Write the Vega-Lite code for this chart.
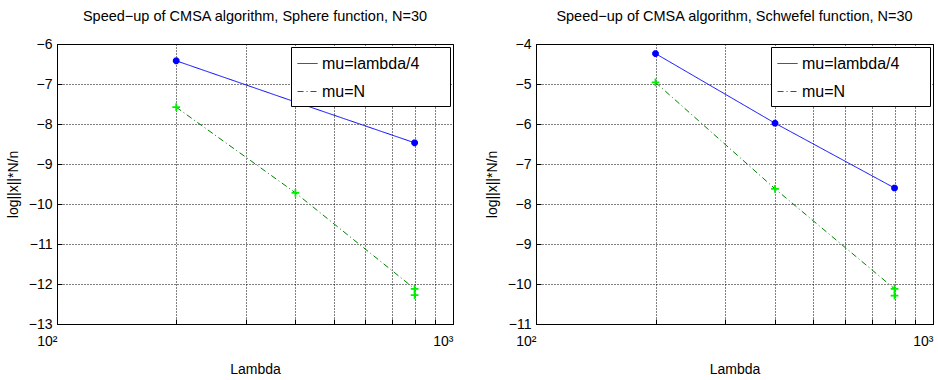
{
  "$schema": "https://vega.github.io/schema/vega-lite/v6.json",
  "background": "white",
  "padding": {"left": 5, "top": 8, "right": 2, "bottom": 0},
  "spacing": 30,
  "config": {
    "font": "Liberation Sans",
    "view": {"stroke": "black", "strokeWidth": 1},
    "axis": {
      "domainColor": "black", "tickColor": "black", "labelColor": "black", "titleColor": "black",
      "gridColor": "black", "gridDash": [1, 2], "gridOpacity": 1, "gridWidth": 1,
      "labelFontSize": 14, "titleFontSize": 14, "titleFontWeight": "normal",
      "tickSize": -5, "labelPadding": 10
    },
    "title": {"fontSize": 14.5, "fontWeight": "normal", "color": "black", "offset": 13},
    "legend": {
      "orient": "top-right", "offset": 3, "strokeColor": "black", "fillColor": "white",
      "padding": 6, "labelFontSize": 16, "symbolType": "stroke", "symbolSize": 400,
      "symbolStrokeWidth": 1, "rowPadding": 9, "labelOffset": 4, "title": null,
      "labelColor": "black", "labelLimit": 400
    }
  },
  "datasets": {
    "sphere": [
      {"series": "mu=lambda/4", "kind": "main", "lambda": 200, "value": -6.42},
      {"series": "mu=lambda/4", "kind": "main", "lambda": 400, "value": -7.45},
      {"series": "mu=lambda/4", "kind": "main", "lambda": 800, "value": -8.47},
      {"series": "mu=N", "kind": "main", "lambda": 200, "value": -7.58},
      {"series": "mu=N", "kind": "main", "lambda": 400, "value": -9.72},
      {"series": "mu=N", "kind": "main", "lambda": 800, "value": -12.12},
      {"series": "mu=N", "kind": "extra", "lambda": 800, "value": -12.28}
    ],
    "schwefel": [
      {"series": "mu=lambda/4", "kind": "main", "lambda": 200, "value": -4.24},
      {"series": "mu=lambda/4", "kind": "main", "lambda": 400, "value": -5.98},
      {"series": "mu=lambda/4", "kind": "main", "lambda": 800, "value": -7.6},
      {"series": "mu=N", "kind": "main", "lambda": 200, "value": -4.96},
      {"series": "mu=N", "kind": "main", "lambda": 400, "value": -7.62},
      {"series": "mu=N", "kind": "main", "lambda": 800, "value": -10.12},
      {"series": "mu=N", "kind": "extra", "lambda": 800, "value": -10.29}
    ]
  },
  "hconcat": [
    {
      "width": 396, "height": 280,
      "title": "Speed−up of CMSA algorithm, Sphere function, N=30",
      "data": {"name": "sphere"},
      "encoding": {
        "x": {"field": "lambda", "type": "quantitative",
          "scale": {"type": "log", "domain": [100, 1000], "nice": false},
          "axis": {"title": "Lambda", "values": [100, 200, 300, 400, 500, 600, 700, 800, 900, 1000],
            "labelExpr": "datum.value == 100 ? '10²' : (datum.value == 1000 ? '10³' : '')",
            "labelAlign": "right", "labelDx": 4, "labelPadding": 15, "titlePadding": 14}},
        "y": {"field": "value", "type": "quantitative",
          "scale": {"domain": [-13, -6], "nice": false},
          "axis": {"title": "log||x||*N/n", "values": [-13, -12, -11, -10, -9, -8, -7, -6], "format": "d", "titlePadding": 8}}
      },
      "layer": [
        {"transform": [{"filter": "datum.kind == 'main'"}],
         "mark": {"type": "line", "strokeWidth": 1},
         "encoding": {
           "color": {"field": "series", "type": "nominal",
             "scale": {"domain": ["mu=lambda/4", "mu=N"], "range": ["#0000ff", "#008000"]},
             "legend": {"encode": {"labels": {"update": {"text": {"signal": "datum.label + '\u2800\u2800'"}}}}}},
           "strokeDash": {"field": "series", "type": "nominal",
             "scale": {"domain": ["mu=lambda/4", "mu=N"], "range": [[1, 0], [6, 3, 1, 3]]},
             "legend": {"encode": {"labels": {"update": {"text": {"signal": "datum.label + '\u2800\u2800'"}}}}}}
         }},
        {"transform": [{"filter": "datum.series == 'mu=lambda/4'"}],
         "mark": {"type": "point", "shape": "M-1,0L1,0M0,-1L0,1M-0.7,-0.7L0.7,0.7M-0.7,0.7L0.7,-0.7", "filled": false, "color": "#0000ff", "strokeWidth": 2.5, "size": 45, "opacity": 1}},
        {"transform": [{"filter": "datum.series == 'mu=N'"}],
         "mark": {"type": "point", "shape": "M-1,0L1,0M0,-1L0,1", "filled": false, "color": "#00ee00", "strokeWidth": 1.8, "size": 60, "opacity": 1}}
      ]
    },
    {
      "width": 397, "height": 280,
      "title": "Speed−up of CMSA algorithm, Schwefel function, N=30",
      "data": {"name": "schwefel"},
      "encoding": {
        "x": {"field": "lambda", "type": "quantitative",
          "scale": {"type": "log", "domain": [100, 1000], "nice": false},
          "axis": {"title": "Lambda", "values": [100, 200, 300, 400, 500, 600, 700, 800, 900, 1000],
            "labelExpr": "datum.value == 100 ? '10²' : (datum.value == 1000 ? '10³' : '')",
            "labelAlign": "right", "labelDx": 4, "labelPadding": 15, "titlePadding": 14}},
        "y": {"field": "value", "type": "quantitative",
          "scale": {"domain": [-11, -4], "nice": false},
          "axis": {"title": "log||x||*N/n", "values": [-11, -10, -9, -8, -7, -6, -5, -4], "format": "d", "titlePadding": 8}}
      },
      "layer": [
        {"transform": [{"filter": "datum.kind == 'main'"}],
         "mark": {"type": "line", "strokeWidth": 1},
         "encoding": {
           "color": {"field": "series", "type": "nominal",
             "scale": {"domain": ["mu=lambda/4", "mu=N"], "range": ["#0000ff", "#008000"]},
             "legend": {"encode": {"labels": {"update": {"text": {"signal": "datum.label + '\u2800\u2800'"}}}}}},
           "strokeDash": {"field": "series", "type": "nominal",
             "scale": {"domain": ["mu=lambda/4", "mu=N"], "range": [[1, 0], [6, 3, 1, 3]]},
             "legend": {"encode": {"labels": {"update": {"text": {"signal": "datum.label + '\u2800\u2800'"}}}}}}
         }},
        {"transform": [{"filter": "datum.series == 'mu=lambda/4'"}],
         "mark": {"type": "point", "shape": "M-1,0L1,0M0,-1L0,1M-0.7,-0.7L0.7,0.7M-0.7,0.7L0.7,-0.7", "filled": false, "color": "#0000ff", "strokeWidth": 2.5, "size": 45, "opacity": 1}},
        {"transform": [{"filter": "datum.series == 'mu=N'"}],
         "mark": {"type": "point", "shape": "M-1,0L1,0M0,-1L0,1", "filled": false, "color": "#00ee00", "strokeWidth": 1.8, "size": 60, "opacity": 1}}
      ]
    }
  ],
  "resolve": {"scale": {"color": "independent", "strokeDash": "independent"}}
}
